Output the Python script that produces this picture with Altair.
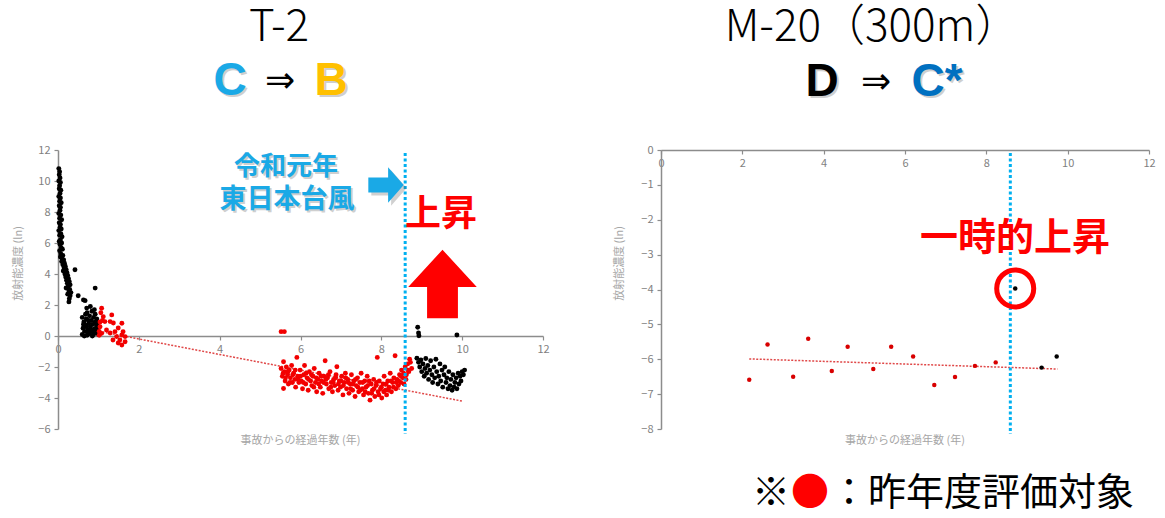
import altair as alt
import pandas as pd

# ---------------- data: T-2 ----------------
t2_black_x = [0.02, 0.04, 0.03, 0.05, 0.02, 0.06, 0.04, 0.03, 0.07, 0.05, 0.02, 0.06, 0.04, 0.08, 0.03, 0.06,
              0.05, 0.02, 0.07, 0.04, 0.09, 0.03, 0.06, 0.05, 0.08, 0.02, 0.07, 0.04, 0.10, 0.06, 0.03, 0.09,
              0.05, 0.08, 0.11, 0.04, 0.07, 0.12, 0.06, 0.10, 0.14, 0.09, 0.16, 0.12, 0.18, 0.15, 0.20, 0.13,
              0.22, 0.17, 0.24, 0.19, 0.26, 0.21, 0.28, 0.23, 0.30, 0.25, 0.20, 0.29, 0.27, 0.32, 0.24, 0.30,
              0.28, 0.27, 0.42, 0.50, 0.63, 0.92, 0.67, 0.71,
              0.60, 0.62, 0.64, 0.60, 0.66, 0.68, 0.70, 0.72, 0.72, 0.74, 0.76, 0.78, 0.78, 0.80, 0.80, 0.82,
              0.84, 0.84, 0.86, 0.88, 0.88, 0.90, 0.92, 0.92, 0.94, 0.96, 0.96, 0.98, 0.99, 1.00, 0.65, 0.70,
              0.75, 0.85, 0.90, 0.68, 0.95, 0.63, 0.82, 0.74,
              8.88, 8.92, 8.95, 8.98, 9.00, 9.03, 9.06, 9.08, 9.10, 9.12, 9.15, 9.17, 9.20, 9.22, 9.25, 9.27,
              9.30, 9.32, 9.35, 9.37, 9.40, 9.42, 9.45, 9.47, 9.50, 9.52, 9.55, 9.57, 9.60, 9.62, 9.65, 9.67,
              9.70, 9.72, 9.75, 9.77, 9.80, 9.82, 9.85, 9.87, 9.90, 9.92, 9.95, 9.97, 10.00, 10.03, 10.06,
              8.90, 8.92, 8.93, 9.87]
t2_black_y = [10.8, 10.6, 10.4, 10.2, 10.0, 9.9, 9.7, 9.5, 9.4, 9.2, 9.0, 8.9, 8.7, 8.6, 8.4, 8.3,
              8.1, 7.9, 7.8, 7.6, 7.5, 7.3, 7.2, 7.0, 6.9, 6.8, 6.6, 6.5, 6.4, 6.2, 6.1, 6.0,
              5.9, 5.7, 5.6, 5.5, 5.3, 5.2, 5.1, 5.0, 4.9, 4.8, 4.7, 4.6, 4.5, 4.4, 4.3, 4.2,
              4.1, 4.0, 3.9, 3.8, 3.7, 3.6, 3.5, 3.4, 3.3, 3.2, 3.1, 3.0, 2.9, 2.8, 2.7, 2.6,
              2.4, 2.2, 4.27, 2.6, 2.33, 3.09, 2.28, 1.8,
              0.1, 0.5, 0.9, 1.2, 0.3, 0.7, 1.1, 0.05, 1.5, 0.4, 0.8, 1.3, 0.15, 1.9, 0.6, 1.0,
              0.3, 1.6, 0.75, 1.2, 0.1, 0.45, 0.9, 1.4, 0.2, 0.65, 1.1, 0.35, 0.85, 0.1, 0.0, 0.6,
              1.0, 0.0, 1.7, 1.4, 0.5, 0.75, 0.4, 0.2,
              -1.44, -1.7, -2.0, -1.55, -2.3, -1.8, -2.6, -2.1, -1.45, -2.4, -1.9, -2.8, -2.2, -1.6, -2.5, -3.0,
              -2.0, -2.7, -1.5, -2.3, -3.1, -2.6, -1.8, -2.9, -2.2, -3.3, -2.5, -2.0, -3.0, -2.7, -3.4, -2.3,
              -3.2, -2.8, -3.5, -2.5, -3.3, -3.0, -2.7, -3.4, -2.4, -3.1, -2.6, -2.9, -2.3, -2.5, -2.2,
              0.56, 0.2, 0.02, 0.06]

t2_red_x = [1.08, 1.33, 1.16, 1.58, 1.02, 1.04, 1.06, 1.12, 1.29, 1.37, 1.49, 1.61, 1.58, 1.45, 1.36, 1.53,
            1.66, 1.49, 1.58, 1.66, 1.04, 1.20, 1.29, 1.08, 1.41, 1.02, 1.10,
            5.52, 5.60,
            5.52, 5.55, 5.58, 5.58, 5.60, 5.62, 5.65, 5.68, 5.70, 5.72, 5.75, 5.78, 5.80, 5.83, 5.86, 5.88,
            5.91, 5.93, 5.96, 5.99, 6.02, 6.05, 6.08, 6.10, 6.13, 6.16, 6.19, 6.22, 6.25, 6.28, 6.31, 6.34,
            6.37, 6.40, 6.43, 6.46, 6.49, 6.52, 6.55, 6.58, 6.61, 6.64, 6.67, 6.70, 6.73, 6.76, 6.79, 6.82,
            6.85, 6.88, 6.90, 6.93, 6.96, 6.99, 7.02, 7.05, 7.08, 7.11, 7.14, 7.17, 7.20, 7.23, 7.26, 7.29,
            7.32, 7.35, 7.38, 7.41, 7.44, 7.47, 7.50, 7.53, 7.56, 7.59, 7.62, 7.65, 7.68, 7.72, 7.75, 7.78,
            7.81, 7.84, 7.87, 7.90, 7.92, 7.95, 7.98, 8.01, 8.04, 8.07, 8.10, 8.13, 8.16, 8.19, 8.22, 8.25,
            8.28, 8.31, 8.34, 8.36, 8.39, 8.42, 8.45, 8.48, 8.50, 8.53, 8.56, 8.59, 8.62, 8.65, 8.68, 8.72,
            8.75,
            5.57, 5.63, 5.69, 5.74, 5.81, 5.87, 5.94, 6.00, 6.07, 6.14, 6.20, 6.27, 6.33, 6.39, 6.45, 6.51,
            6.57, 6.63, 6.69, 6.75, 6.81, 6.87, 6.94, 7.00, 7.06, 7.12, 7.18, 7.24, 7.30, 7.36, 7.42, 7.48,
            7.54, 7.60, 7.66, 7.70, 7.76, 7.82, 7.88, 7.94, 8.00, 8.06, 8.12, 8.18, 8.24, 8.30, 8.37, 8.43,
            8.49, 8.55, 8.61, 8.66, 8.70]
t2_red_y = [1.79, 1.36, 0.93, 0.82, 0.3, 0.6, 1.5, 1.25, 0.93, 0.84, 0.52, 0.28, 0.06, -0.04, -0.26, -0.26,
            -0.04, -0.45, -0.58, -0.37, 0.9, 0.39, 0.19, 0.17, 0.28, 0.05, 1.0,
            0.28, 0.28,
            -2.1, -2.6, -1.66, -3.39, -2.3, -2.9, -2.0, -2.5, -3.1, -2.2, -2.7, -1.9, -3.0, -2.4, -2.8, -3.3,
            -1.38, -2.6, -3.0, -2.2, -2.9, -3.4, -2.5, -1.9, -3.1, -2.7, -3.5, -2.3, -2.9, -3.2, -2.6, -2.1,
            -3.0, -3.6, -2.8, -2.4, -3.3, -2.9, -3.7, -2.6, -1.6, -3.1, -2.7, -3.4, -2.3, -3.0, -3.6, -2.8,
            -3.2, -2.5, -1.98, -3.5, -2.9, -3.3, -2.6, -3.8, -3.0, -2.4, -3.4, -2.8, -3.7, -3.1, -2.5, -3.5,
            -2.9, -3.9, -3.2, -2.7, -3.6, -3.0, -2.4, -3.4, -3.8, -2.9, -3.3, -2.6, -3.7, -4.14, -3.1, -3.5,
            -2.8, -3.9, -3.2, -1.38, -3.6, -2.9, -3.4, -4.0, -3.1, -2.6, -3.5, -3.8, -2.9, -3.3, -2.4, -3.6,
            -3.0, -2.7, -1.27, -3.4, -2.8, -3.2, -2.5, -3.0, -2.2, -2.7, -3.1, -2.0, -2.5, -1.8, -2.3, -1.7,
            -2.1,
            -2.4, -2.7, -2.3, -3.0, -2.5, -2.2, -2.8, -2.6, -3.0, -2.4, -2.8, -2.5, -3.3, -2.7, -3.1, -2.6,
            -3.0, -2.8, -2.5, -3.3, -3.0, -2.7, -3.1, -2.9, -3.2, -2.7, -3.0, -3.4, -3.1, -2.8, -3.3, -3.5,
            -3.0, -3.6, -3.2, -2.9, -3.7, -3.4, -3.0, -3.8, -3.3, -3.6, -3.1, -3.5, -2.9, -3.3, -3.0, -2.9,
            -2.6, -2.4, -2.8, -2.2, -1.5]

t2_trend_x = [1.1, 10.0]
t2_trend_y = [0.26, -4.2]

# ---------------- data: M-20 (300m) ----------------
m20_red_x = [2.17, 2.62, 3.25, 3.62, 4.20, 4.59, 5.22, 5.66, 6.20, 6.72, 7.23, 7.72, 8.23]
m20_red_y = [-6.59, -5.58, -6.50, -5.41, -6.34, -5.64, -6.28, -5.64, -5.92, -6.74, -6.51, -6.19, -6.09]
m20_black_x = [8.71, 9.36, 9.73]
m20_black_y = [-3.97, -6.24, -5.92]
m20_trend_x = [2.17, 9.75]
m20_trend_y = [-5.99, -6.28]
m20_spike_x = [8.71]
m20_spike_y = [-3.97]

typhoon_years = [8.59]   # 2019-10-12, years since 2011-03-11

x_ticks = [0, 2, 4, 6, 8, 10, 12]
t2_y_ticks = [12, 10, 8, 6, 4, 2, 0, -2, -4, -6]
m20_y_ticks = [0, -1, -2, -3, -4, -5, -6, -7, -8]

W1, W2, H = 485, 488, 279
FONT = "Noto Sans CJK JP"
LATIN = "Liberation Sans"
AX_COLOR = "#8c8c8c"
LBL_COLOR = "#7f7f7f"
TTL_COLOR = "#a6a6a6"
BLUE_L = "#1AA9E6"


def pts_df(xs, ys):
    return pd.DataFrame({"x": xs, "y": ys})


def one(**kw):
    return pd.DataFrame({k: [v] for k, v in kw.items()})


def text(t, x, y, size, color="#000000", weight="normal", font=FONT, align="center",
         shadow=False, opacity=1.0):
    layers = []
    if shadow:
        layers.append(alt.Chart(one(t=t)).mark_text(
            fontSize=size, font=font, fontWeight=weight, color="#555555", opacity=0.28,
            align=align, baseline="middle").encode(
            text="t:N", x=alt.value(x + 2), y=alt.value(y + 2)))
    layers.append(alt.Chart(one(t=t)).mark_text(
        fontSize=size, font=font, fontWeight=weight, color=color, opacity=opacity,
        align=align, baseline="middle").encode(text="t:N", x=alt.value(x), y=alt.value(y)))
    return layers


def axes(yticks, xoffset, ytitle_x):
    xaxis = alt.Axis(values=x_ticks, offset=xoffset, orient="bottom", title=None, grid=False,
                     domainColor=AX_COLOR, domainWidth=1.5, tickColor=AX_COLOR, tickSize=4,
                     tickWidth=1.2, labelColor=LBL_COLOR, labelFontSize=11, labelFont=FONT,
                     labelPadding=3, labelFlush=False, labelOverlap=False)
    yaxis = alt.Axis(values=yticks, title="放射能濃度 (ln)", grid=False,
                     domainColor=AX_COLOR, domainWidth=1.5, tickColor=AX_COLOR, tickSize=4,
                     tickWidth=1.2, labelColor=LBL_COLOR, labelFontSize=11, labelFont=FONT,
                     labelPadding=4, labelFlush=False, labelOverlap=False,
                     titleX=ytitle_x, titleY=113, titleAngle=270, titleAlign="center",
                     titleBaseline="middle", titleColor=TTL_COLOR, titleFontSize=11,
                     titleFont=FONT, titleFontWeight="normal")
    return xaxis, yaxis


def panel(black_df, red_df, trend_df, xscale, yscale, xaxis, yaxis, width, point_size, red_color):
    enc = dict(x=alt.X("x:Q", scale=xscale, axis=xaxis), y=alt.Y("y:Q", scale=yscale, axis=yaxis))
    trend = alt.Chart(trend_df).mark_line(color="#E04848", strokeWidth=1.5,
                                          strokeDash=[2, 1.5]).encode(**enc)
    base_black = alt.Chart(black_df).mark_circle(size=point_size, opacity=1,
                                                 color="#000000").encode(**enc)
    base_red = alt.Chart(red_df).mark_circle(size=point_size, opacity=1,
                                             color=red_color).encode(**enc)
    rule = alt.Chart(pd.DataFrame({"x": typhoon_years})).mark_rule(
        color="#00B0F0", strokeWidth=3, strokeDash=[3, 2.5]).encode(
        x=alt.X("x:Q", scale=xscale, axis=xaxis), y=alt.value(3), y2=alt.value(H + 5))
    xtitle = alt.Chart(one(t="事故からの経過年数 (年)")).mark_text(
        fontSize=11, font=FONT, color=TTL_COLOR, align="center", baseline="middle").encode(
        text="t:N", x=alt.value(width / 2), y=alt.value(291))
    return [trend, base_black, base_red, rule, xtitle]


xs = alt.Scale(domain=[0, 12], nice=False, zero=False)
ys1 = alt.Scale(domain=[-6, 12], nice=False, zero=False)
ys2 = alt.Scale(domain=[-8, 0], nice=False, zero=False)

xa1, ya1 = axes(t2_y_ticks, -H * 6 / 18, -40)
xa2, ya2 = axes(m20_y_ticks, -H, -42)

left_layers = panel(pts_df(t2_black_x, t2_black_y), pts_df(t2_red_x, t2_red_y),
                    pts_df(t2_trend_x, t2_trend_y), xs, ys1, xa1, ya1, W1, 24, "#F20000")

ARROW_R = "M-1,-0.42L0.12,-0.42L0.12,-1L1,0L0.12,1L0.12,0.42L-1,0.42Z"
ARROW_U = "M0,-1L1,0.09L0.45,0.09L0.45,1L-0.45,1L-0.45,0.09L-1,0.09Z"
blue_arrow_sh = alt.Chart(one(a=1)).mark_point(
    shape=ARROW_R, filled=True, size=1250, color="#555555", opacity=0.28, strokeWidth=0).encode(
    x=alt.value(331), y=alt.value(38))
blue_arrow = alt.Chart(one(a=1)).mark_point(
    shape=ARROW_R, filled=True, size=1250, color=BLUE_L, opacity=1, strokeWidth=0).encode(
    x=alt.value(328), y=alt.value(35))
red_arrow = alt.Chart(one(a=1)).mark_point(
    shape=ARROW_U, filled=True, size=4700, color="#FF0000", opacity=1, strokeWidth=0).encode(
    x=alt.value(384.5), y=alt.value(134))

left_ann = (text("T-2", 221, -122, 44, weight=300)
            + text("C", 172, -69, 46, color=BLUE_L, weight="bold", font=LATIN, shadow=True)
            + text("⇒", 222, -69, 36, font="DejaVu Sans")
            + text("B", 273, -69, 46, color="#FFC000", weight="bold", font=LATIN, shadow=True)
            + text("令和元年", 228, 17, 26, color=BLUE_L, weight="bold", shadow=True)
            + text("東日本台風", 229, 50, 27, color=BLUE_L, weight="bold", shadow=True)
            + text("上昇", 383, 65, 36, color="#FF0000", weight="bold"))

left = alt.layer(*left_layers, blue_arrow_sh, blue_arrow, red_arrow, *left_ann).properties(
    width=W1, height=H)

right_layers = panel(pts_df(m20_black_x, m20_black_y), pts_df(m20_red_x, m20_red_y),
                     pts_df(m20_trend_x, m20_trend_y), xs, ys2, xa2, ya2, W2, 20, "#D80000")

ring = alt.Chart(pts_df(m20_spike_x, m20_spike_y)).mark_point(
    shape="circle", filled=False, size=1370, strokeWidth=5, color="#FF0000", opacity=1).encode(
    x=alt.X("x:Q", scale=xs, axis=xa2), y=alt.Y("y:Q", scale=ys2, axis=ya2))

right_ann = (text("M-20（300m）", 211, -122, 44, weight=300)
             + text("D", 161, -68, 46, color="#000000", weight="bold", font=LATIN, shadow=True)
             + text("⇒", 215, -68, 36, font="DejaVu Sans")
             + text("C*", 276, -68, 46, color="#0070C0", weight="bold", font=LATIN, shadow=True)
             + text("一時的上昇", 354, 89, 38, color="#FF0000", weight="bold")
             + text("※", 91, 344, 38, align="left")
             + text("●", 130, 344, 38, color="#FF0000", align="left")
             + text("：昨年度評価対象", 169, 344, 38, align="left"))

right = alt.layer(*right_layers, ring, *right_ann).properties(width=W2, height=H)

chart = alt.hconcat(left, right, spacing=63).properties(
    padding={"left": 12, "top": 6, "right": 0, "bottom": 0}
).configure_view(stroke=None)

chart.save("out.html", embed_options={"renderer": "svg", "actions": False})
